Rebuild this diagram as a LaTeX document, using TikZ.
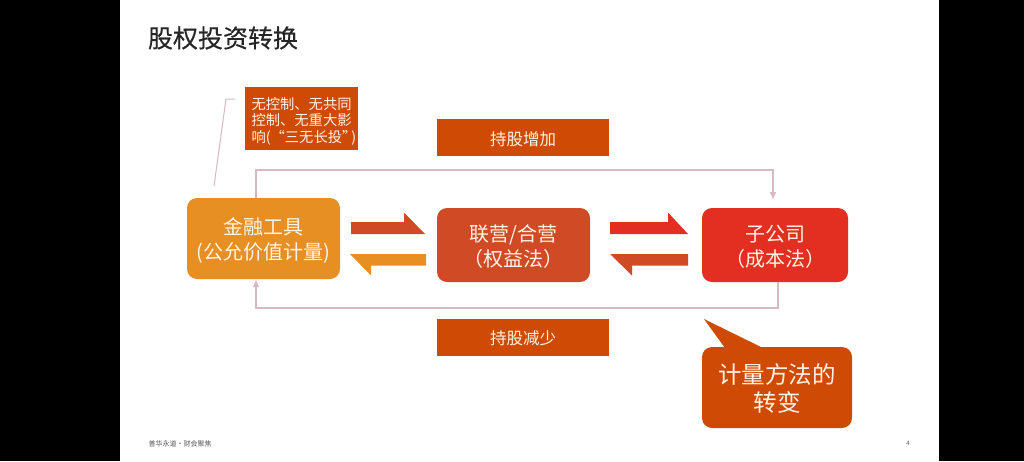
\documentclass[tikz,border=0pt]{standalone}
\usepackage{fontspec}
\usetikzlibrary{arrows.meta}
\setmainfont{Noto Sans CJK SC}
\newfontfamily\titlefont[FakeBold=0.4]{Noto Sans CJK SC}
\newcommand\dropby[1]{\raisebox{#1}{\vphantom{国}}}
\definecolor{amber}{HTML}{E88F24}
\definecolor{rust}{HTML}{CF4A25}
\definecolor{scarlet}{HTML}{E32F22}
\definecolor{burnt}{HTML}{CF4A04}
\definecolor{mauve}{HTML}{D9B8C6}
\definecolor{cream}{HTML}{FFF3E6}
\tikzset{
  stagebox/.style={rounded corners=10pt,minimum height=74pt,inner sep=0pt,align=center,text=cream,font=\fontsize{20}{25}\selectfont},
  tagbox/.style={fill=burnt,minimum width=172pt,minimum height=37pt,inner sep=0pt,text=cream,font=\fontsize{16.5}{20}\selectfont},
  link/.style={draw=mauve,line width=2.3pt},
  linktip/.style={-{Latex[length=8pt,width=7pt]}}
}
\begin{document}
\begin{tikzpicture}[x=1pt,y=-1pt]
\useasboundingbox (0,0) rectangle (1024,461);
\fill [black] (0,0) rectangle (1024,461);
\fill [white] (120,0) rectangle (939,461);
\node (title) at (223,38) [text=black!85,font=\fontsize{25}{25}\titlefont] {股权投资转换};
%boxes
\node (fin) at (263.5,238.5) [stagebox,fill=amber,minimum width=153pt,minimum height=81pt] {\dropby{6pt}金融工具\\(公允价值计量)};
\node (assoc) at (513.5,245) [stagebox,fill=rust,minimum width=153pt] {\dropby{4pt}联营/合营\\（权益法）};
\node (sub) at (775,245) [stagebox,fill=scarlet,minimum width=146pt] {\dropby{4pt}子公司\\（成本法）};
\node (up) at (523,137.5) [tagbox] {\dropby{4pt}持股增加};
\node (down) at (523,337) [tagbox] {\dropby{3pt}持股减少};
\node (note) at (301.5,118.5) [fill=burnt,text width=113pt,minimum height=63pt,inner sep=0pt,align=left,text=cream,font=\fontsize{14.3}{16.5}\selectfont] {\dropby{6pt}\hspace*{6.5pt}无控制、无共同\\\hspace*{6.5pt}控制、无重大影\\\hspace*{6.5pt}响(“三无长投”\hspace{-5pt})};
%callout
\fill [burnt] (704,319) -- (763,348) -- (725,348) -- cycle;
\node (shift) at (777,387.5) [stagebox,fill=burnt,minimum width=150pt,minimum height=81pt,font=\fontsize{23.5}{28}\selectfont] {\dropby{4pt}计量方法的\\转变};
%half arrows
\foreach \x/\l/\h/\c in {351/74/53/rust,610/78/58/scarlet}
  \fill [\c] (\x,222) -- (\x+\h,222) -- (\x+\h,212.5) -- (\x+\l,234) -- (\x,234) -- cycle;
\foreach \x/\l/\h/\c in {350/76/21/amber,610/78/22/rust}
  \fill [\c] (\x+\l,254) -- (\x,254) -- (\x+\h,275.5) -- (\x+\h,265.5) -- (\x+\l,265.5) -- cycle;
%loop lines
\coordinate (topl) at (256,170);
\coordinate (topr) at (773,170);
\coordinate (topend) at (773,200);
\coordinate (botl) at (256,308);
\coordinate (botr) at (778,308);
\draw [link,linktip] (fin.north -| topl) -- (topl) -- (topr) -- (topend);
\draw [link,linktip] (sub.south -| botr) -- (botr) -- (botl) -- (fin.south -| botl);
%note leader
\coordinate (leadtop) at (235,99);
\coordinate (leadknee) at (226,99);
\coordinate (leadend) at (214,186);
\draw [draw=mauve,line width=1pt] (leadtop) -- (leadknee) -- (leadend);
%footer
\node (foot) at (180,444) [text=black!65,font=\fontsize{7}{8}\selectfont] {普华永道・财会聚焦};
\node (page) at (908,443.5) [text=black!65,font=\fontsize{6}{7}\selectfont] {4};
\end{tikzpicture}
\end{document}
